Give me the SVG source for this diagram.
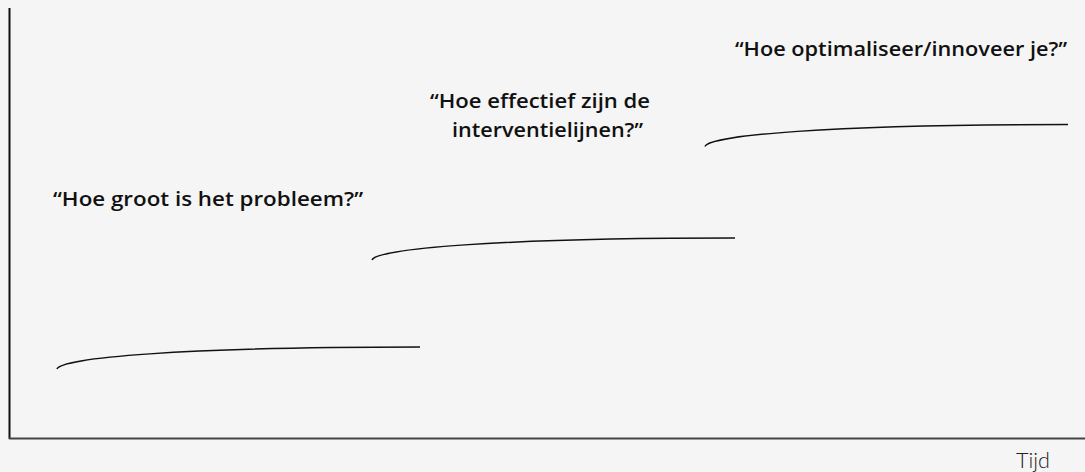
<svg xmlns="http://www.w3.org/2000/svg" width="1085" height="472" viewBox="0 0 1085 472">
<style>
.q{font-family:"Open Sans",Lato,sans-serif;font-weight:600;font-size:20px;fill:#111}
.ax{stroke-width:2;fill:none}
.c{stroke:#111;stroke-width:1.5;fill:none}
</style>
<defs>
<path id="curve" d="M0,0 C3,-11 123,-22 363,-22"/>
</defs>
<rect width="1085" height="472" fill="#f5f5f5"/>
<g id="axes">
<line class="ax" x1="9.5" y1="8" x2="9.5" y2="439" stroke="#111"/>
<line class="ax" x1="9" y1="438.5" x2="1085" y2="438.5" stroke="#444"/>
</g>
<g id="connectors">
<use href="#curve" class="c" x="57" y="369"/>
<use href="#curve" class="c" x="372" y="260"/>
<use href="#curve" class="c" x="705" y="146.5"/>
</g>
<g id="node1"><text class="q" x="53" y="206" textLength="310" lengthAdjust="spacingAndGlyphs">“Hoe groot is het probleem?”</text></g>
<g id="node2"><text class="q" x="430" y="108" textLength="220" lengthAdjust="spacingAndGlyphs">“Hoe effectief zijn de</text><text class="q" x="452" y="137" textLength="191" lengthAdjust="spacingAndGlyphs">interventielijnen?”</text></g>
<g id="node3"><text class="q" x="735" y="56" textLength="332" lengthAdjust="spacingAndGlyphs">“Hoe optimaliseer/innoveer je?”</text></g>
<g id="label"><text x="1016" y="468" font-family="Lato,'Noto Sans',sans-serif" font-weight="300" font-size="21" fill="#222" textLength="34" lengthAdjust="spacingAndGlyphs">Tijd</text></g>
</svg>
